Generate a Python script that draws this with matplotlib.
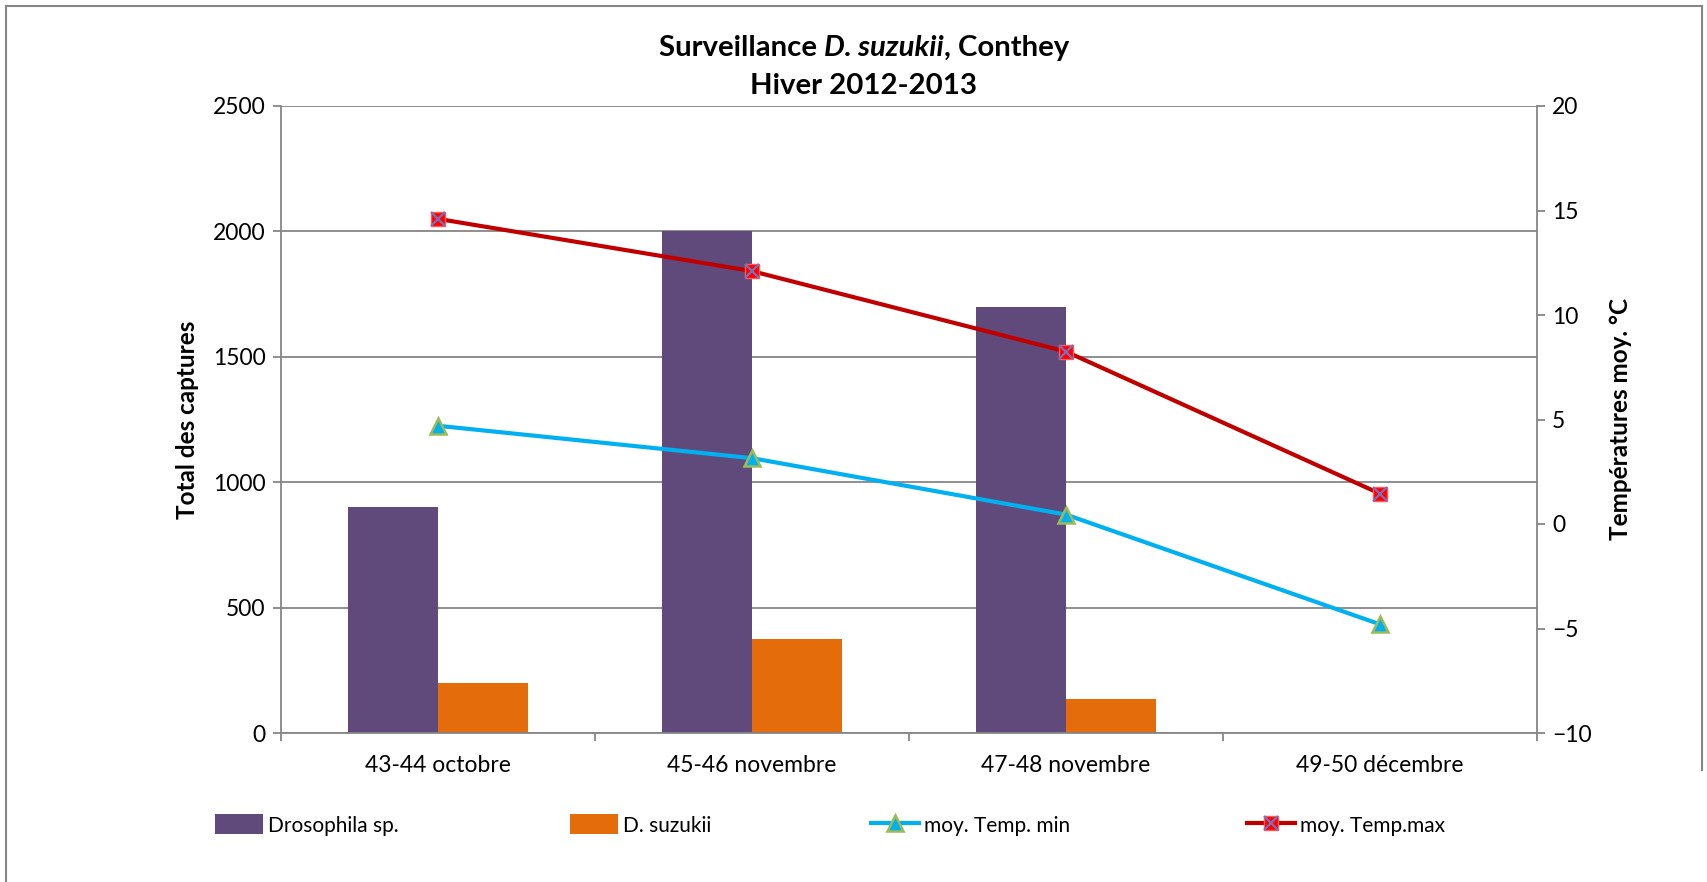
import matplotlib
matplotlib.use("Agg")
import matplotlib.pyplot as plt
from matplotlib.lines import Line2D
from matplotlib.patches import Patch
from matplotlib.legend_handler import HandlerTuple
import numpy as np

plt.rcParams['font.family'] = ['Lato', 'DejaVu Sans']

categories = ["43-44 octobre", "45-46 novembre", "47-48 novembre", "49-50 décembre"]
drosophila = [900, 2000, 1700, 0]
suzukii = [200, 375, 135, 0]
temp_min = [4.7, 3.15, 0.45, -4.8]
temp_max = [14.6, 12.1, 8.25, 1.45]
left_ticks = [0, 500, 1000, 1500, 2000, 2500]
right_ticks = [-10, -5, 0, 5, 10, 15, 20]

W, H = 1708, 882
fig = plt.figure(figsize=(W/100, H/100), dpi=100)
fig.patch.set_facecolor('white')

L, R, T, B = 281, 1537, 106, 733
ax = fig.add_axes([L/W, 1-B/H, (R-L)/W, (B-T)/H])
ax2 = ax.twinx()

grey = '#868686'
fs = 16.5
x = np.arange(len(categories))
bw = 0.2857
ax.bar(x - bw/2, drosophila, width=bw, color='#604A7B', zorder=2)
ax.bar(x + bw/2, suzukii, width=bw, color='#E46C0A', zorder=2)

ax.set_xlim(-0.5, len(categories)-0.5)
ax.set_ylim(0, 2500)
ax.set_yticks(left_ticks)
ax.yaxis.grid(True, color=grey, linewidth=1.3, zorder=0)
ax.set_axisbelow(True)
ax.set_xticks(x)
ax.set_xticklabels(categories, fontsize=fs)
ax.set_xticks(np.arange(-0.5, len(categories)), minor=True)
ax.tick_params(axis='x', which='major', length=0, pad=16)
ax.tick_params(axis='x', which='minor', length=6, width=1.3, color=grey, direction='out')
ax.tick_params(axis='y', length=6, width=1.3, color=grey, labelsize=fs, pad=5)

ax2.set_ylim(-10, 20)
ax2.set_yticks(right_ticks)
ax2.tick_params(axis='y', length=6, width=1.3, color=grey, labelsize=fs, pad=5)

for a in (ax, ax2):
    for s in a.spines.values():
        s.set_visible(False)
ax.spines['left'].set_visible(True)
ax.spines['bottom'].set_visible(True)
ax2.spines['right'].set_visible(True)
for s in (ax.spines['left'], ax.spines['bottom'], ax2.spines['right']):
    s.set_color(grey)
    s.set_linewidth(1.3)

min_style = dict(color='#00B0F0', linewidth=3, marker='^', markersize=11.5,
                 markerfacecolor='#00B0F0', markeredgecolor='#9BBB59', markeredgewidth=1.8)
max_style = dict(color='#C00000', linewidth=3, marker='s', markersize=10.5,
                 markerfacecolor='#FF0000', markeredgecolor='#FF5A5A', markeredgewidth=1)
x_style = dict(linestyle='none', marker='x', markersize=9.5,
               markeredgecolor='#7B6FB8', markeredgewidth=1.6)

ax2.plot(x, temp_min, zorder=3, **min_style)
ax2.plot(x, temp_max, zorder=3, **max_style)
ax2.plot(x, temp_max, zorder=4, **x_style)

ax.set_ylabel("Total des captures", fontsize=17.5, fontweight='bold', labelpad=10)
ax2.set_ylabel("Températures moy. °C", fontsize=17.5, fontweight='bold', labelpad=12)

# Title with italic part
fig.canvas.draw()
r = fig.canvas.get_renderer()
tfs = 21.2
parts = [("Surveillance ", 'normal'), ("D. suzukii", 'italic'), (", Conthey", 'normal')]
texts = []
widths = []
for s, st in parts:
    t = fig.text(0, 0, s, fontsize=tfs, fontweight='bold', style=st)
    bb = t.get_window_extent(r)
    widths.append(bb.width)
    texts.append(t)
total = sum(widths)
xc = 864
y1 = 1 - 48/H
xs = xc - total/2
for t, w in zip(texts, widths):
    t.set_position((xs/W, y1))
    t.set_va('center')
    xs += w
fig.text(xc/W, 1 - 86/H, "Hiver 2012-2013", fontsize=tfs, fontweight='bold', ha='center', va='center')

# Legends
handles = [
    Patch(facecolor='#604A7B'),
    Patch(facecolor='#E46C0A'),
    Line2D([], [], **min_style),
    (Line2D([], [], **max_style), Line2D([], [], **x_style)),
]
labels = ["Drosophila sp.", "D. suzukii", "moy. Temp. min", "moy. Temp.max"]
lx = [215, 570, 871, 1247]
ly = 1 - 825/H
for h, lab, xx in zip(handles, labels, lx):
    leg = fig.legend([h], [lab], loc='center left', bbox_to_anchor=(xx/W, ly),
                     frameon=False, fontsize=15, handlelength=2.3, handleheight=1.1,
                     borderpad=0, borderaxespad=0, handletextpad=0.25,
                     handler_map={tuple: HandlerTuple(ndivide=1)})

# Outer border
fig.add_artist(Line2D([6/W, 6/W], [0, 1-6/H], color=grey, linewidth=1.5))
fig.add_artist(Line2D([6/W, 1702/W], [1-6/H, 1-6/H], color=grey, linewidth=1.5))
fig.add_artist(Line2D([1702/W, 1702/W], [1-6/H, 1-770/H], color=grey, linewidth=1.5))

fig.savefig("out.png", dpi=100, facecolor='white')
